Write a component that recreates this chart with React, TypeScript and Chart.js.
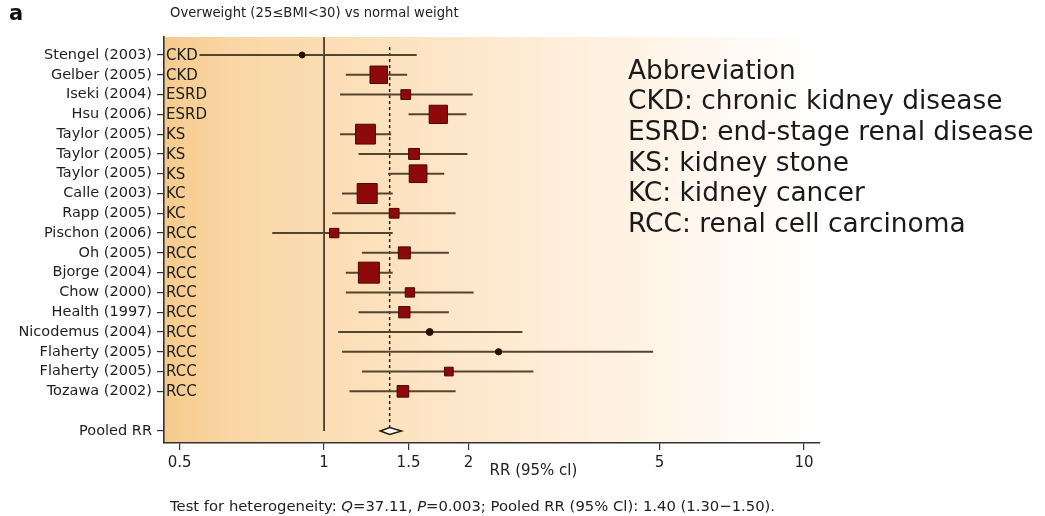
import React, { useEffect, useRef } from "react";
import { Chart, registerables } from "chart.js";

Chart.register(...registerables);

// studies (top to bottom)
const studies = [
  "Stengel (2003)", "Gelber (2005)", "Iseki (2004)", "Hsu (2006)",
  "Taylor (2005)", "Taylor (2005)", "Taylor (2005)", "Calle (2003)",
  "Rapp (2005)", "Pischon (2006)", "Oh (2005)", "Bjorge (2004)",
  "Chow (2000)", "Health (1997)", "Nicodemus (2004)", "Flaherty (2005)",
  "Flaherty (2005)", "Tozawa (2002)",
];
const outcomes = [
  "CKD", "CKD", "ESRD", "ESRD", "KS", "KS", "KS", "KC", "KC",
  "RCC", "RCC", "RCC", "RCC", "RCC", "RCC", "RCC", "RCC", "RCC",
];
const rr = [0.90, 1.30, 1.48, 1.73, 1.22, 1.54, 1.57, 1.23, 1.40, 1.05, 1.47, 1.24, 1.51, 1.47, 1.66, 2.31, 1.82, 1.46];
const lower = [0.55, 1.11, 1.08, 1.50, 1.08, 1.18, 1.36, 1.09, 1.04, 0.78, 1.20, 1.11, 1.11, 1.18, 1.07, 1.09, 1.20, 1.13];
const upper = [1.56, 1.49, 2.04, 1.98, 1.38, 1.99, 1.78, 1.39, 1.88, 1.39, 1.82, 1.39, 2.05, 1.82, 2.59, 4.85, 2.73, 1.88];
// relative study weights (marker area)
const weights = [0.9, 7.7, 2.4, 8.4, 9.9, 3.0, 7.9, 10.1, 2.4, 2.2, 3.6, 11.1, 2.2, 3.2, 1.2, 1.0, 1.9, 3.4];

// pooled estimate [rr, lower, upper]
const pooled = [1.37, 1.31, 1.45];
const pooledLabel = "Pooled RR";
const pooledRow = 19;

const xTicks = [0.5, 1, 1.5, 2, 5, 10];

const panelLetter = "a";
const subtitle = "Overweight (25\u2264BMI<30) vs normal weight";
const xTitle = "RR (95% cl)";
const legendLines = [
  "Abbreviation",
  "CKD: chronic kidney disease",
  "ESRD: end-stage renal disease",
  "KS: kidney stone",
  "KC: kidney cancer",
  "RCC: renal cell carcinoma",
];
// [text, italic]
const footer: [string, boolean][] = [
  ["Test for heterogeneity: ", false],
  ["Q", true],
  ["=37.11, ", false],
  ["P", true],
  ["=0.003; Pooled RR (95% Cl): 1.40 (1.30\u22121.50).", false],
];

const FONT = "'DejaVu Sans', sans-serif";
const Y_TOP = -0.91;
const Y_BOTTOM = 19.61;

const forestDecor = {
  id: "forestDecor",
  beforeDraw(chart: Chart) {
    const { ctx, chartArea: a } = chart;
    const g = ctx.createLinearGradient(a.left, 0, a.right, 0);
    g.addColorStop(0, "#f6ca8c");
    g.addColorStop(0.1, "#f9d6a4");
    g.addColorStop(0.45, "#fde7ca");
    g.addColorStop(0.75, "#fff4e8");
    g.addColorStop(1, "#ffffff");
    ctx.save();
    ctx.fillStyle = g;
    ctx.fillRect(a.left, a.top, a.right - a.left, a.bottom - a.top);
    ctx.restore();
  },
  afterDatasetsDraw(chart: Chart) {
    const { ctx, chartArea: a } = chart;
    const xs = chart.scales.x;
    const ys = chart.scales.y;
    ctx.save();
    // pooled diamond
    const py = ys.getPixelForValue(pooledRow);
    const pc = xs.getPixelForValue(pooled[0]);
    const pl = xs.getPixelForValue(pooled[1]);
    const pr = xs.getPixelForValue(pooled[2]);
    ctx.beginPath();
    ctx.moveTo(pl, py);
    ctx.lineTo(pc, py - 3.5);
    ctx.lineTo(pr, py);
    ctx.lineTo(pc, py + 3.5);
    ctx.closePath();
    ctx.fillStyle = "#ffffff";
    ctx.fill();
    ctx.lineWidth = 1.5;
    ctx.strokeStyle = "#2a1a0a";
    ctx.stroke();
    // outcome abbreviations inside the plot
    ctx.font = `15px ${FONT}`;
    ctx.fillStyle = "#1e1e1e";
    ctx.textAlign = "left";
    ctx.textBaseline = "middle";
    outcomes.forEach((o, i) => {
      ctx.fillText(o, a.left + 2, ys.getPixelForValue(i) + 1);
    });
    ctx.restore();
  },
  afterDraw(chart: Chart) {
    const { ctx } = chart;
    const xs = chart.scales.x;
    ctx.save();
    ctx.fillStyle = "#111";
    ctx.textBaseline = "middle";
    ctx.textAlign = "left";
    ctx.font = `bold 21px ${FONT}`;
    ctx.fillText(panelLetter, 9, 15);
    ctx.font = `13.2px ${FONT}`;
    ctx.fillStyle = "#222";
    ctx.fillText(subtitle, 170, 14);
    // axis title
    ctx.font = `15px ${FONT}`;
    ctx.fillText(xTitle, xs.getPixelForValue(2) + 21, 471);
    // abbreviation legend
    ctx.font = `26.4px ${FONT}`;
    ctx.fillStyle = "#1a1a1a";
    legendLines.forEach((t, i) => ctx.fillText(t, 628, 72 + i * 30.6));
    // footer
    let fx = 170;
    ctx.fillStyle = "#222";
    footer.forEach(([t, it]) => {
      ctx.font = `${it ? "italic " : ""}14.8px ${FONT}`;
      ctx.fillText(t, fx, 507);
      fx += ctx.measureText(t).width;
    });
    ctx.restore();
  },
};

export default function App() {
  const canvasRef = useRef<HTMLCanvasElement | null>(null);
  const chartRef = useRef<Chart | null>(null);

  useEffect(() => {
    if (!canvasRef.current) return;
    const ctx = canvasRef.current.getContext("2d");
    if (!ctx) return;
    if (chartRef.current) chartRef.current.destroy();

    const sides = weights.map((w) => 6.3 * Math.sqrt(w));
    const isDot = weights.map((w) => w < 1.5);

    const ciSets = studies.map((s, i) => ({
      label: s,
      data: [
        { x: lower[i], y: i },
        { x: upper[i], y: i },
      ],
      showLine: true,
      borderColor: "#54452f",
      borderWidth: 2,
      pointRadius: 0,
    }));

    chartRef.current = new Chart(ctx, {
      type: "scatter",
      data: {
        datasets: [
          {
            label: "RR",
            data: rr.map((v, i) => ({ x: v, y: i })),
            pointStyle: isDot.map((d) => (d ? "circle" : "rect")) as any,
            pointRadius: sides.map((s, i) => (isDot[i] ? s / 2 : s / Math.SQRT2)),
            pointHoverRadius: sides.map((s, i) => (isDot[i] ? s / 2 : s / Math.SQRT2)),
            backgroundColor: isDot.map((d) => (d ? "#2a0c06" : "#8e0a0a")),
            borderColor: isDot.map((d) => (d ? "#2a0c06" : "#4b0505")),
            borderWidth: 1,
          },
          ...ciSets,
          {
            label: "null line",
            data: [
              { x: 1, y: Y_TOP },
              { x: 1, y: pooledRow },
            ],
            showLine: true,
            borderColor: "#3a2a18",
            borderWidth: 1.6,
            pointRadius: 0,
          },
          {
            label: "pooled line",
            data: [
              { x: pooled[0], y: -0.4 },
              { x: pooled[0], y: pooledRow - 0.18 },
            ],
            showLine: true,
            borderColor: "#2a1a0a",
            borderWidth: 1.5,
            borderDash: [3, 3],
            pointRadius: 0,
          },
        ],
      },
      options: {
        responsive: false,
        animation: false,
        devicePixelRatio: 1,
        layout: { padding: { left: 0, right: 225, top: 37, bottom: 0 } },
        plugins: {
          legend: { display: false },
          tooltip: { enabled: false },
        },
        scales: {
          x: {
            type: "logarithmic",
            min: 0.464,
            max: 10.8,
            afterFit: (scale: any) => {
              scale.height = 73;
            },
            afterBuildTicks: (scale: any) => {
              scale.ticks = xTicks.map((v) => ({ value: v }));
            },
            ticks: {
              autoSkip: false,
              maxRotation: 0,
              color: "#222",
              padding: 4,
              font: { family: FONT, size: 15 },
              callback: (v: any) => String(v),
            },
            grid: {
              drawOnChartArea: false,
              color: "#333",
              lineWidth: 1.2,
              tickLength: 7,
            },
            border: { display: true, color: "#333", width: 1.6 },
          },
          y: {
            type: "linear",
            reverse: true,
            min: Y_TOP,
            max: Y_BOTTOM,
            afterFit: (scale: any) => {
              scale.width = 164;
            },
            afterBuildTicks: (scale: any) => {
              scale.ticks = [...studies.map((_, i) => i), pooledRow].map((v) => ({ value: v }));
            },
            ticks: {
              autoSkip: false,
              color: "#1e1e1e",
              padding: 5,
              font: { family: FONT, size: 14.5 },
              callback: (v: any) => (v === pooledRow ? pooledLabel : studies[v]),
            },
            grid: {
              drawOnChartArea: false,
              color: "#333",
              lineWidth: 1.2,
              tickLength: 7,
            },
            border: { display: true, color: "#333", width: 1.6 },
          },
        },
      },
      plugins: [forestDecor],
    });

    return () => {
      if (chartRef.current) {
        chartRef.current.destroy();
        chartRef.current = null;
      }
    };
  }, []);

  return (
    <div style={{ position: "absolute", left: 0, top: 0, width: 1045, height: 516, background: "#fff" }}>
      <canvas ref={canvasRef} width={1045} height={516} />
    </div>
  );
}
